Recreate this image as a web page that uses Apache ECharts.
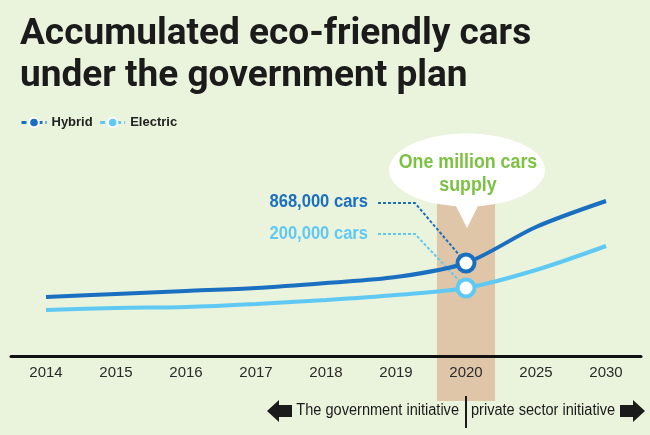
<!DOCTYPE html>
<html>
<head>
<meta charset="utf-8">
<script src="https://cdn.jsdelivr.net/npm/echarts@6/dist/echarts.min.js"></script>
<style>
  html, body { margin: 0; padding: 0; background: #eaf3dc; }
  #chart { width: 650px; height: 435px; }
</style>
</head>
<body>
<div id="chart"></div>
<script>
// data (relative heights, the source gives no scale)
const years = ['2014', '2015', '2016', '2017', '2018', '2019', '2020', '2025', '2030'];
const hybrid = [59, 62, 65, 68, 73, 79, 93, 129, 155];
const electric = [46, 48, 49, 52, 56, 61, 68, 86, 110];
const callouts = ['868,000 cars', '200,000 cars'];
const planYear = '2020';

const HYB = '#1a6fc0';
const ELE = '#5fc9f3';
const GREEN = '#7cc242';
const BAND = '#dfc6a9';
const SANS = "'Liberation Sans', Arial, sans-serif";

const planIdx = years.indexOf(planYear);

function withMarker(values, color) {
    return values.map((v, i) => i === planIdx
        ? { value: v, symbol: 'circle', symbolSize: 17,
            itemStyle: { color: '#fff', borderColor: color, borderWidth: 4 } }
        : { value: v, symbol: 'none' });
}

const chart = echarts.init(document.getElementById('chart'));

chart.setOption({
    backgroundColor: '#eaf3dc',
    animation: false,
    title: {
        text: 'Accumulated eco-friendly cars\nunder the government plan',
        left: 15,
        top: 9,
        textStyle: {
            fontFamily: 'Roboto',
            fontWeight: 'bold',
            fontSize: 37,
            lineHeight: 42,
            color: '#1b1b1b'
        }
    },
    legend: {
        left: 15,
        top: 111,
        itemWidth: 25,
        itemHeight: 12,
        itemGap: 6,
        textStyle: { fontFamily: SANS, fontWeight: 'bold', fontSize: 13, color: '#222' },
        data: [
            { name: 'Hybrid', itemStyle: { color: HYB, borderColor: '#fff', borderWidth: 2 },
              lineStyle: { color: HYB, width: 3, type: [5, 3] } },
            { name: 'Electric', itemStyle: { color: ELE, borderColor: '#fff', borderWidth: 2 },
              lineStyle: { color: ELE, width: 3, type: [5, 3] } }
        ]
    },
    grid: { left: 11, right: 9, top: 156, bottom: 79 },
    xAxis: {
        type: 'category',
        data: years,
        boundaryGap: true,
        axisLine: { lineStyle: { color: '#111', width: 3 } },
        axisTick: { inside: true, length: 8, alignWithLabel: true, lineStyle: { color: '#111', width: 2 } },
        axisLabel: { margin: 9, fontFamily: SANS, fontSize: 15, color: '#2a2a2a' }
    },
    yAxis: { type: 'value', min: 0, max: 200, show: false },
    series: [
        {
            name: 'Hybrid', type: 'line', smooth: 0.3, symbol: 'circle',
            color: HYB,
            lineStyle: { width: 4, color: HYB },
            data: withMarker(hybrid, HYB)
        },
        {
            name: 'Electric', type: 'line', smooth: 0.3, symbol: 'circle',
            color: ELE,
            lineStyle: { width: 4, color: ELE },
            data: withMarker(electric, ELE)
        }
    ]
});

// decorations placed from the axis scale
const pH = chart.convertToPixel({ seriesIndex: 0 }, [planIdx, hybrid[planIdx]]);
const pE = chart.convertToPixel({ seriesIndex: 1 }, [planIdx, electric[planIdx]]);
const step = chart.convertToPixel({ xAxisIndex: 0 }, years[1]) - chart.convertToPixel({ xAxisIndex: 0 }, years[0]);
const cx = pH[0];
const bandW = step * 0.83;

function arrow(tipX, dir) {
    // block arrow, dir -1 points left, +1 points right
    const y = 411;
    const pts = [
        [tipX, y],
        [tipX - dir * 12, y - 11],
        [tipX - dir * 12, y - 6],
        [tipX - dir * 25, y - 6],
        [tipX - dir * 25, y + 6],
        [tipX - dir * 12, y + 6],
        [tipX - dir * 12, y + 11]
    ];
    return { type: 'polygon', z: 5, shape: { points: pts }, style: { fill: '#1b1b1b' } };
}

function label(text, x, y, font, color, align, sx) {
    return { type: 'text', z: 21, x: x, y: y, scaleX: sx,
             style: { text: text, fill: color, font: font, align: align, verticalAlign: 'middle' } };
}

chart.setOption({
    graphic: [
        { type: 'rect', z: -10, shape: { x: cx - bandW / 2, y: 200, width: bandW, height: 201 },
          style: { fill: BAND } },
        { type: 'circle', z: 20, x: cx + 1, y: 170, scaleY: 0.47, shape: { cx: 0, cy: 0, r: 78 },
          style: { fill: '#fff' } },
        { type: 'polygon', z: 20, shape: { points: [[cx - 12, 202], [cx + 14, 202], [cx + 1, 228]] },
          style: { fill: '#fff' } },
        label('One million cars', cx + 2, 162, 'bold 20px ' + SANS, GREEN, 'center', 0.89),
        label('supply', cx + 2, 185, 'bold 20px ' + SANS, GREEN, 'center', 0.89),
        label(callouts[0], 368, 202, 'bold 18px ' + SANS, HYB, 'right', 0.92),
        label(callouts[1], 368, 234, 'bold 18px ' + SANS, ELE, 'right', 0.92),
        { type: 'polyline', z: 1, shape: { points: [[378, 203], [415, 203], pH] },
          style: { stroke: HYB, lineWidth: 2, lineDash: [3, 2], fill: null } },
        { type: 'polyline', z: 1, shape: { points: [[378, 234], [415, 234], pE] },
          style: { stroke: ELE, lineWidth: 2, lineDash: [3, 2], fill: null } },
        arrow(267, -1),
        label('The government initiative', 459, 411, '16px ' + SANS, '#1b1b1b', 'right', 0.91),
        { type: 'line', z: 5, shape: { x1: cx, y1: 396, x2: cx, y2: 428 }, style: { stroke: '#1b1b1b', lineWidth: 2 } },
        label('private sector initiative', 471, 411, '16px ' + SANS, '#1b1b1b', 'left', 0.91),
        arrow(645, 1)
    ]
});
</script>
</body>
</html>
